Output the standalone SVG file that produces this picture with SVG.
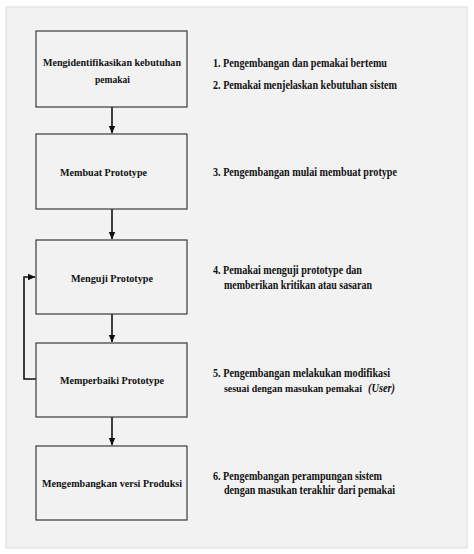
<svg xmlns="http://www.w3.org/2000/svg" width="474" height="554" viewBox="0 0 474 554">
<style>
.box{fill:#f2f2f2;stroke:#3a3a3a;stroke-width:1.2}
.t{font-family:"Liberation Serif","Times New Roman",serif;font-weight:bold;fill:#111}
.b{font-size:11px}
.n{font-size:11.5px}
.c{text-anchor:middle}
.line{fill:none;stroke:#111;stroke-width:1.6}
</style>
<defs>
<marker id="ah" markerWidth="8" markerHeight="8" refX="7" refY="4" orient="auto" markerUnits="userSpaceOnUse">
<path d="M0,0.8 L7.5,4 L0,7.2 Z" fill="#111"/>
</marker>
</defs>
<rect x="0" y="0" width="474" height="554" fill="#ffffff"/>
<rect x="6" y="7" width="461" height="541" fill="#f2f2f2" stroke="#dcdcdc" stroke-width="1"/>
<g id="connectors">
<line class="line" x1="112" y1="107" x2="112" y2="133" marker-end="url(#ah)"/>
<line class="line" x1="112" y1="209" x2="112" y2="239" marker-end="url(#ah)"/>
<line class="line" x1="112" y1="314" x2="112" y2="342" marker-end="url(#ah)"/>
<line class="line" x1="112" y1="417" x2="112" y2="445" marker-end="url(#ah)"/>
<polyline class="line" points="36,379 24,379 24,277 35,277" marker-end="url(#ah)"/>
</g>
<g id="node1">
<rect class="box" x="36" y="31" width="151" height="76"/>
<text class="t b" x="43" y="66" textLength="138" lengthAdjust="spacingAndGlyphs">Mengidentifikasikan kebutuhan</text>
<text class="t b" x="95" y="83" textLength="35" lengthAdjust="spacingAndGlyphs">pemakai</text>
</g>
<g id="node2">
<rect class="box" x="36" y="134" width="151" height="75"/>
<text class="t b" x="60" y="176" textLength="87" lengthAdjust="spacingAndGlyphs">Membuat Prototype</text>
</g>
<g id="node3">
<rect class="box" x="36" y="240" width="151" height="74"/>
<text class="t b" x="71" y="282" textLength="82" lengthAdjust="spacingAndGlyphs">Menguji Prototype</text>
</g>
<g id="node4">
<rect class="box" x="36" y="343" width="151" height="74"/>
<text class="t b" x="60" y="384" textLength="104" lengthAdjust="spacingAndGlyphs">Memperbaiki Prototype</text>
</g>
<g id="node5">
<rect class="box" x="36" y="446" width="151" height="74"/>
<text class="t b" x="42" y="487" textLength="140" lengthAdjust="spacingAndGlyphs">Mengembangkan versi Produksi</text>
</g>
<g id="notes">
<text class="t n" x="213" y="67" textLength="174" lengthAdjust="spacingAndGlyphs">1. Pengembangan dan pemakai bertemu</text>
<text class="t n" x="213" y="89" textLength="184" lengthAdjust="spacingAndGlyphs">2. Pemakai menjelaskan kebutuhan sistem</text>
<text class="t n" x="213" y="176" textLength="184" lengthAdjust="spacingAndGlyphs">3. Pengembangan mulai membuat protype</text>
<text class="t n" x="213" y="274" textLength="149" lengthAdjust="spacingAndGlyphs">4. Pemakai menguji prototype dan</text>
<text class="t n" x="224" y="289" textLength="148" lengthAdjust="spacingAndGlyphs">memberikan kritikan atau sasaran</text>
<text class="t n" x="213" y="377" textLength="177" lengthAdjust="spacingAndGlyphs">5. Pengembangan melakukan modifikasi</text>
<text class="t" font-size="10.5" x="224" y="392" textLength="138" lengthAdjust="spacingAndGlyphs">sesuai dengan masukan pemakai</text>
<text class="t n" x="368" y="392" font-style="italic" textLength="27" lengthAdjust="spacingAndGlyphs">(User)</text>
<text class="t n" x="213" y="480" textLength="169" lengthAdjust="spacingAndGlyphs">6. Pengembangan perampungan sistem</text>
<text class="t n" x="224" y="494" textLength="171" lengthAdjust="spacingAndGlyphs">dengan masukan terakhir dari pemakai</text>
</g>
</svg>
